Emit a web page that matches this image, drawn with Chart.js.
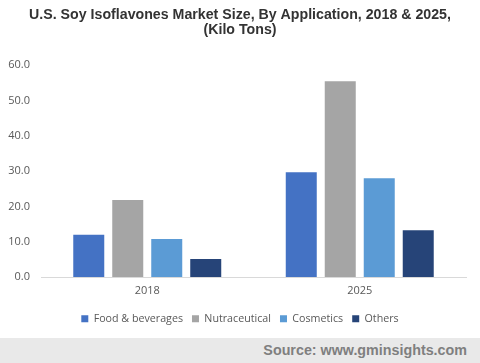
<!DOCTYPE html>
<html>
<head>
<meta charset="utf-8">
<script src="https://cdn.jsdelivr.net/npm/chart.js@4/dist/chart.umd.min.js"></script>
<style>
  html, body { margin: 0; padding: 0; background: #fff; }
  #wrap { position: relative; width: 480px; height: 363px; overflow: hidden; }
  #chartBox { position: absolute; left: 0; top: 0; width: 480px; height: 338px; }
  #source {
    position: absolute; left: 0; top: 338px; width: 480px; height: 25px;
    background: #e9e9e9; color: #7f7f7f;
    font: bold 14.3px "Liberation Sans", Arial, sans-serif;
    text-align: right; line-height: 25px; box-sizing: border-box; padding-right: 13px;
  }
</style>
</head>
<body>
<div id="wrap">
  <div id="chartBox"><canvas id="bar"></canvas></div>
  <div id="source">Source: www.gminsights.com</div>
</div>
<script>
const years = ['2018', '2025'];
const foodBeverages = [12.0, 29.7];
const nutraceutical = [21.8, 55.5];
const cosmetics = [10.8, 28.0];
const others = [5.1, 13.3];
const yTicks = [0, 10, 20, 30, 40, 50, 60];

function makeChart() {
  const ctx = document.getElementById('bar').getContext('2d');
  new Chart(ctx, {
    type: 'bar',
    data: {
      labels: years,
      datasets: [
        { label: 'Food & beverages', data: foodBeverages, backgroundColor: '#4472C4' },
        { label: 'Nutraceutical', data: nutraceutical, backgroundColor: '#A5A5A5' },
        { label: 'Cosmetics', data: cosmetics, backgroundColor: '#5B9BD5' },
        { label: 'Others', data: others, backgroundColor: '#264478' }
      ]
    },
    options: {
      responsive: true,
      maintainAspectRatio: false,
      animation: false,
      datasets: {
        bar: { categoryPercentage: 0.734, barPercentage: 0.795 }
      },
      layout: { padding: { left: 0, right: 0, top: 4, bottom: 4 } },
      plugins: {
        title: {
          display: true,
          text: ['U.S. Soy Isoflavones Market Size, By Application, 2018 & 2025,', '(Kilo Tons)'],
          color: '#333333',
          font: { family: '"Liberation Sans", Arial, sans-serif', size: 14.2, weight: 'bold', lineHeight: 1.1 },
          padding: { top: 3, bottom: 27 }
        },
        legend: {
          position: 'bottom',
          labels: {
            color: '#595959',
            font: { family: '"Open Sans", sans-serif', size: 10.7 },
            boxWidth: 7, boxHeight: 7, padding: 9
          }
        },
        tooltip: { enabled: false }
      },
      scales: {
        x: {
          grid: { display: false, drawTicks: false },
          border: { color: '#d9d9d9' },
          ticks: { color: '#595959', padding: 7, font: { family: '"Open Sans", sans-serif', size: 11 } }
        },
        y: {
          min: 0,
          max: 60,
          afterBuildTicks: axis => { axis.ticks = yTicks.map(v => ({ value: v })); },
          afterFit: axis => { axis.width = 41; },
          grid: { display: false, drawTicks: false },
          border: { display: false },
          ticks: {
            color: '#595959',
            padding: 11,
            font: { family: '"Open Sans", sans-serif', size: 11 },
            callback: v => v.toFixed(1)
          }
        },
        pad: {
          position: 'right',
          min: 0,
          max: 1,
          afterFit: axis => { axis.width = 14; },
          grid: { display: false, drawTicks: false },
          border: { display: false },
          ticks: { display: false }
        }
      }
    }
  });
}

window.onload = makeChart;
</script>
</body>
</html>
